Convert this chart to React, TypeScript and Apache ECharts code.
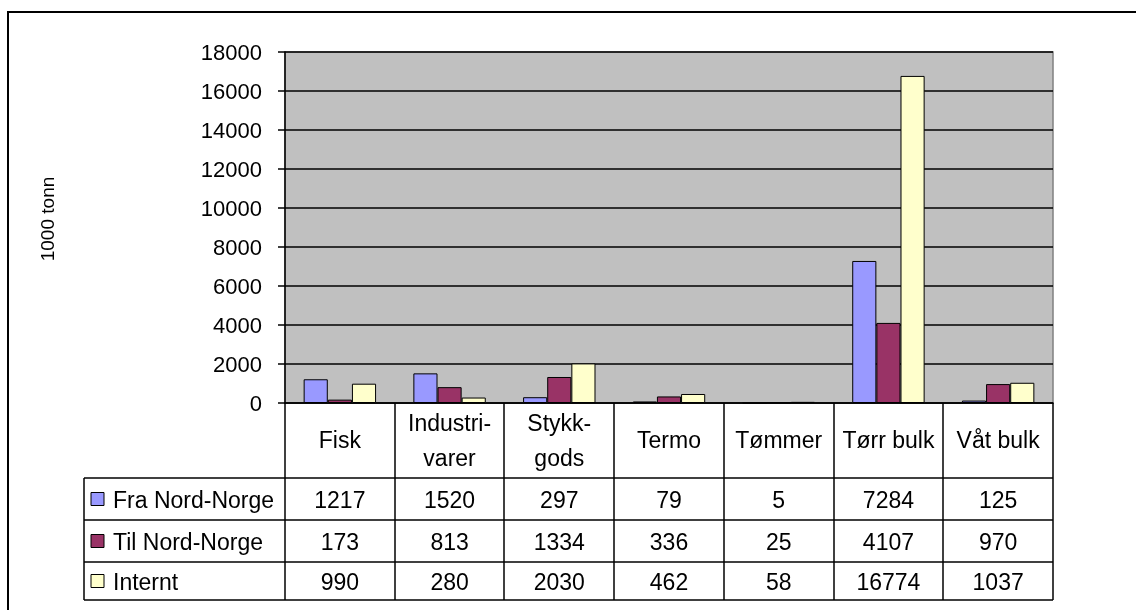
import React, { useEffect, useRef } from "react";
import * as echarts from "echarts";

const categories = ["Fisk", "Industri-\nvarer", "Stykk-\ngods", "Termo", "Tømmer", "Tørr bulk", "Våt bulk"];
const seriesNames = ["Fra Nord-Norge", "Til Nord-Norge", "Internt"];
const fraNordNorge = [1217, 1520, 297, 79, 5, 7284, 125];
const tilNordNorge = [173, 813, 1334, 336, 25, 4107, 970];
const internt = [990, 280, 2030, 462, 58, 16774, 1037];
const colors = ["#9999FF", "#993366", "#FFFFCC"];
const yTitle = "1000 tonn";

const FONT = "'Liberation Sans', Arial, sans-serif";

export default function App() {
  const ref = useRef<HTMLDivElement>(null);
  useEffect(() => {
    if (!ref.current) return;
    const chart = echarts.init(ref.current, null, { renderer: "svg" });
    const left = 285, top = 52, plotW = 768, plotH = 351;
    const bottom = top + plotH;
    const colW = plotW / categories.length;
    const rowYs = [478, 520, 562, 600];
    const legendLeft = 84;
    const allSeries = [fraNordNorge, tilNordNorge, internt];
    const lineStyle = { stroke: "#000", lineWidth: 1.5 };
    const graphic: any[] = [];
    graphic.push({ type: "rect", shape: { x: 8, y: 12, width: 1150, height: 700 }, style: { fill: "none", stroke: "#000", lineWidth: 2 } });
    rowYs.forEach((y) => {
      graphic.push({ type: "line", shape: { x1: legendLeft, y1: y, x2: left + plotW, y2: y }, style: lineStyle });
    });
    graphic.push({ type: "line", shape: { x1: legendLeft, y1: rowYs[0], x2: legendLeft, y2: rowYs[3] }, style: lineStyle });
    for (let k = 0; k <= categories.length; k++) {
      const x = Math.round(left + k * colW);
      graphic.push({ type: "line", shape: { x1: x, y1: bottom, x2: x, y2: rowYs[3] }, style: lineStyle });
    }
    seriesNames.forEach((name, i) => {
      const cy = (rowYs[i] + rowYs[i + 1]) / 2;
      graphic.push({ type: "rect", shape: { x: 91, y: cy - 6.5, width: 13, height: 13 }, style: { fill: colors[i], stroke: "#000", lineWidth: 1 } });
      graphic.push({ type: "text", x: 113, y: cy + 1, style: { text: name, font: `23px ${FONT}`, fill: "#000", textVerticalAlign: "middle", textAlign: "left" } });
      allSeries[i].forEach((v, j) => {
        graphic.push({ type: "text", x: left + (j + 0.5) * colW, y: cy + 1, style: { text: String(v), font: `23px ${FONT}`, fill: "#000", textAlign: "center", textVerticalAlign: "middle" } });
      });
    });
    graphic.push({ type: "text", x: 47, y: 219, rotation: Math.PI / 2, style: { text: yTitle, font: `19px ${FONT}`, fill: "#000", textAlign: "center", textVerticalAlign: "middle" } });

    chart.setOption({
      animation: false,
      grid: { left, top, width: plotW, height: plotH, show: true, backgroundColor: "#C0C0C0", borderColor: "#808080", borderWidth: 1.5 },
      xAxis: {
        type: "category",
        data: categories,
        axisLine: { lineStyle: { color: "#000", width: 1.5 } },
        axisTick: { show: false },
        axisLabel: { color: "#000", fontSize: 23, fontFamily: FONT, lineHeight: 35, margin: 37, verticalAlign: "middle", interval: 0 },
      },
      yAxis: {
        type: "value",
        min: 0,
        max: 18000,
        interval: 2000,
        axisLine: { show: true, lineStyle: { color: "#000", width: 1.5 } },
        axisTick: { show: true, length: 7, lineStyle: { color: "#000", width: 1.5 } },
        axisLabel: { color: "#000", fontSize: 22, fontFamily: FONT, margin: 23, formatter: (v: number) => String(v) },
        splitLine: { show: true, lineStyle: { color: "#000", width: 1.5 } },
      },
      series: allSeries.map((d, i) => ({
        type: "bar",
        name: seriesNames[i],
        data: d,
        barGap: "0%",
        barCategoryGap: "34%",
        itemStyle: { color: colors[i], borderColor: "#000", borderWidth: 1 },
      })),
      graphic,
    });
    return () => chart.dispose();
  }, []);
  return <div ref={ref} style={{ position: "fixed", left: 0, top: 0, width: 1136, height: 610 }} />;
}
